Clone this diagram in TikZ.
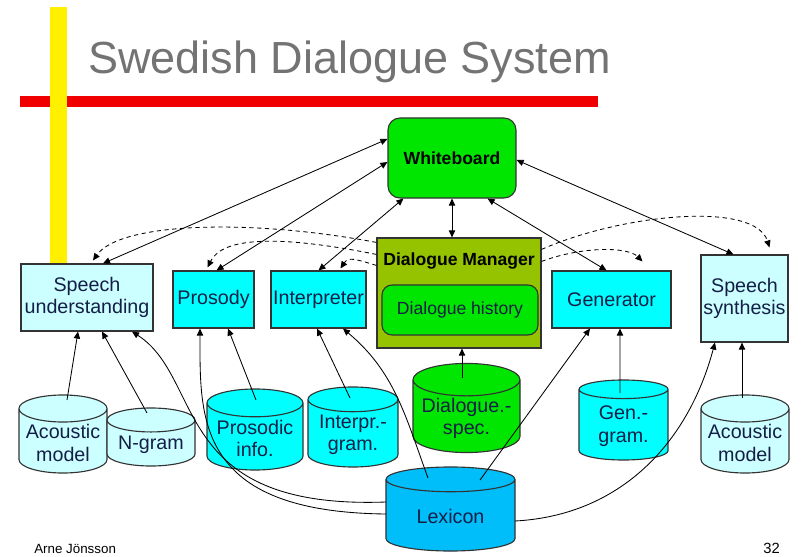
\documentclass[tikz,border=0pt]{standalone}
\usepackage{fontspec}
\setmainfont{Liberation Sans}
\definecolor{lightbox}{RGB}{204,255,255}
\definecolor{cyanbox}{RGB}{0,255,255}
\definecolor{wbgreen}{RGB}{0,230,0}
\definecolor{dmolive}{RGB}{150,195,0}
\definecolor{lexblue}{RGB}{0,190,250}
\definecolor{titlegray}{RGB}{115,115,115}
\definecolor{barred}{RGB}{240,0,0}
\definecolor{baryellow}{RGB}{255,240,0}
\definecolor{inkblue}{RGB}{20,30,70}
\usetikzlibrary{shapes.geometric, arrows.meta, calc}
\tikzset{
  module/.style={rectangle, draw=black!80, line width=0.8pt, fill=lightbox,
    inner sep=1pt, align=center, text=inkblue,
    font=\fontsize{14}{16}\selectfont},
  board/.style={module, rounded corners=0.3cm, fill=wbgreen, text=black,
    font=\fontsize{12.5}{14}\selectfont\bfseries},
  store/.style={cylinder, shape border rotate=90, aspect=0.35,
    anchor=shape center, draw=black!80, line width=0.8pt, fill=lightbox,
    inner sep=1pt, align=center, text=inkblue,
    font=\fontsize{14}{16}\selectfont},
  link/.style={{Triangle[length=5pt,width=4.5pt]}-{Triangle[length=5pt,width=4.5pt]},
    line width=0.6pt},
  feed/.style={-{Triangle[length=5pt,width=4.5pt]}, line width=0.6pt},
  ctrl/.style={feed, dash pattern=on 3pt off 2.5pt},
}

\begin{document}
\begin{tikzpicture}[x=0.025cm, y=-0.025cm]
  \useasboundingbox (0,0) rectangle (802,557);
  % title and bars
  \fill[barred] (20,96) rectangle (598,107);
  \fill[baryellow] (50,7) rectangle (67,263);
  \node[anchor=base west, inner sep=0, text=titlegray,
    font=\fontsize{32}{35}\selectfont] (title) at (88,74)
    {Swedish Dialogue System};

  % modules
  \node[board, minimum width=3.2cm, minimum height=2cm] (wb) at (452,158)
    {Whiteboard};
  \node[module, fill=dmolive, minimum width=4.1cm, minimum height=2.75cm,
    label={[font=\fontsize{12.5}{14}\selectfont\bfseries, anchor=north,
      yshift=-0.27cm]north:Dialogue Manager}] (dm) at (459,293) {};
  \node[board, fill=wbgreen, text=inkblue, font=\fontsize{12.5}{14}\selectfont,
    rounded corners=0.25cm, minimum width=3.9cm, minimum height=1.25cm]
    (hist) at (460,310) {Dialogue history};
  \node[module, minimum width=3.3cm, minimum height=1.675cm] (su)
    at (87,297.5) {Speech\\understanding};
  \node[module, fill=cyanbox, minimum width=2.025cm, minimum height=1.425cm]
    (prosody) at (213.5,299.5) {Prosody};
  \node[module, fill=cyanbox, minimum width=2.375cm, minimum height=1.425cm]
    (interp) at (318.5,299.5) {Interpreter};
  \node[module, fill=cyanbox, minimum width=2.975cm, minimum height=1.425cm]
    (gen) at (611.5,299.5) {Generator};
  \node[module, minimum width=2.175cm, minimum height=2.175cm] (ss)
    at (744.5,298.5) {Speech\\synthesis};

  % knowledge sources
  \node[store, minimum width=2.2cm, minimum height=1.95cm] (aml)
    at (63,434) {Acoustic\\model};
  \node[store, minimum width=2.2cm, minimum height=1.45cm] (ngram)
    at (151,437) {N-gram};
  \node[store, fill=cyanbox, minimum width=2.4cm, minimum height=2.025cm]
    (pinfo) at (255,429.5) {Prosodic\\info.};
  \node[store, fill=cyanbox, minimum width=2.25cm, minimum height=2cm]
    (igram) at (353,427) {Interpr.-\\gram.};
  \node[store, fill=wbgreen, minimum width=2.675cm, minimum height=1.9cm]
    (dspec) at (466.5,408) {Dialogue.-\\spec.};
  \node[store, fill=lexblue, minimum width=3.225cm, minimum height=2.1cm]
    (lex) at (450.5,509) {Lexicon};
  \node[store, fill=cyanbox, minimum width=2.225cm, minimum height=2cm]
    (ggram) at (623.5,420) {Gen.-\\gram.};
  \node[store, minimum width=2.2cm, minimum height=1.95cm] (amr)
    at (745,434) {Acoustic\\model};

  % whiteboard links
  \draw[link] ($(su.north)+(16,0)$) -- ($(wb.west)+(0,-19)$);
  \draw[link] ($(prosody.north)+(3,0)$) -- ($(wb.west)+(0,4)$);
  \draw[link] (interp.north) -- ($(wb.south west)+(16,0)$);
  \draw[link] (wb.south) -- (wb.south |- dm.north);
  \draw[link] ($(wb.south east)+(-29,0)$) -- ($(gen.north)+(-5,0)$);
  \draw[link] ($(wb.east)+(0,2)$) -- ($(ss.north)+(-11,0)$);

  % dialogue manager control
  \draw[ctrl] ($(dm.north west)+(0,5)$) .. controls +(-127,-24) and +(27,-38)
    .. ($(su.north)+(6,-3)$);
  \draw[ctrl] ($(dm.north west)+(0,17)$) .. controls +(-100,-20) and +(15,-30)
    .. ($(prosody.north)+(-6,-3)$);
  \draw[ctrl] ($(dm.north west)+(0,28)$) .. controls +(-20,-6) and +(8,-12)
    .. ($(interp.north)+(22,-2)$);
  \draw[ctrl] ($(dm.north east)+(0,24)$) .. controls +(40,-15) and +(-15,-15)
    .. ($(gen.north)+(31,-9)$);
  \draw[ctrl] ($(dm.north east)+(0,12)$) .. controls +(79,-35) and +(-15,-47)
    .. ($(ss.north)+(25,-7)$);

  % knowledge source feeds
  \draw[feed] ($(aml.shape center)+(4,-34)$) -- ($(su.south)+(-9,0)$);
  \draw[feed] ($(ngram.shape center)+(-4,-24)$) -- ($(su.south)+(15,0)$);
  \draw[feed] ($(lex.shape center)+(-64.5,-7)$) .. controls +(-216,8) and +(73,47)
    .. ($(su.south)+(45,0)$);
  \draw[feed] ($(lex.shape center)+(-64.5,5)$) .. controls +(-191,-2) and +(0,89)
    .. ($(prosody.south)+(-13.5,0)$);
  \draw[feed] ($(pinfo.shape center)+(1,-29.5)$) -- ($(prosody.south)+(14.5,0)$);
  \draw[feed] ($(igram.shape center)+(-3,-29)$) -- ($(interp.south)+(-1.5,0)$);
  \draw[feed] ($(lex.shape center)+(-22.5,-31)$) to[out=110,in=-40]
    ($(interp.south)+(24.5,0)$);
  \draw[feed] ($(dspec.shape center)+(-4.5,-30)$) -- ($(dm.south)+(3,0)$);
  \draw[feed] ($(lex.shape center)+(29.5,-29)$) -- ($(gen.south)+(-21.5,0)$);
  \draw[feed] ($(ggram.shape center)+(-3.5,-27)$) -- ($(gen.south)+(8.5,0)$);
  \draw[feed] ($(lex.shape center)+(64.5,12)$) to[out=3,in=-105]
    ($(ss.south)+(-29.5,0)$);
  \draw[feed] ($(amr.shape center)+(-3,-36)$) -- ($(ss.south)+(-2.5,0)$);

  % footer
  \node[anchor=base west, inner sep=0, font=\fontsize{9.5}{11}\selectfont]
    (author) at (34,553) {Arne Jönsson};
  \node[anchor=base east, inner sep=0, font=\fontsize{10.5}{12}\selectfont]
    (page) at (780,553) {32};
\end{tikzpicture}
\end{document}
